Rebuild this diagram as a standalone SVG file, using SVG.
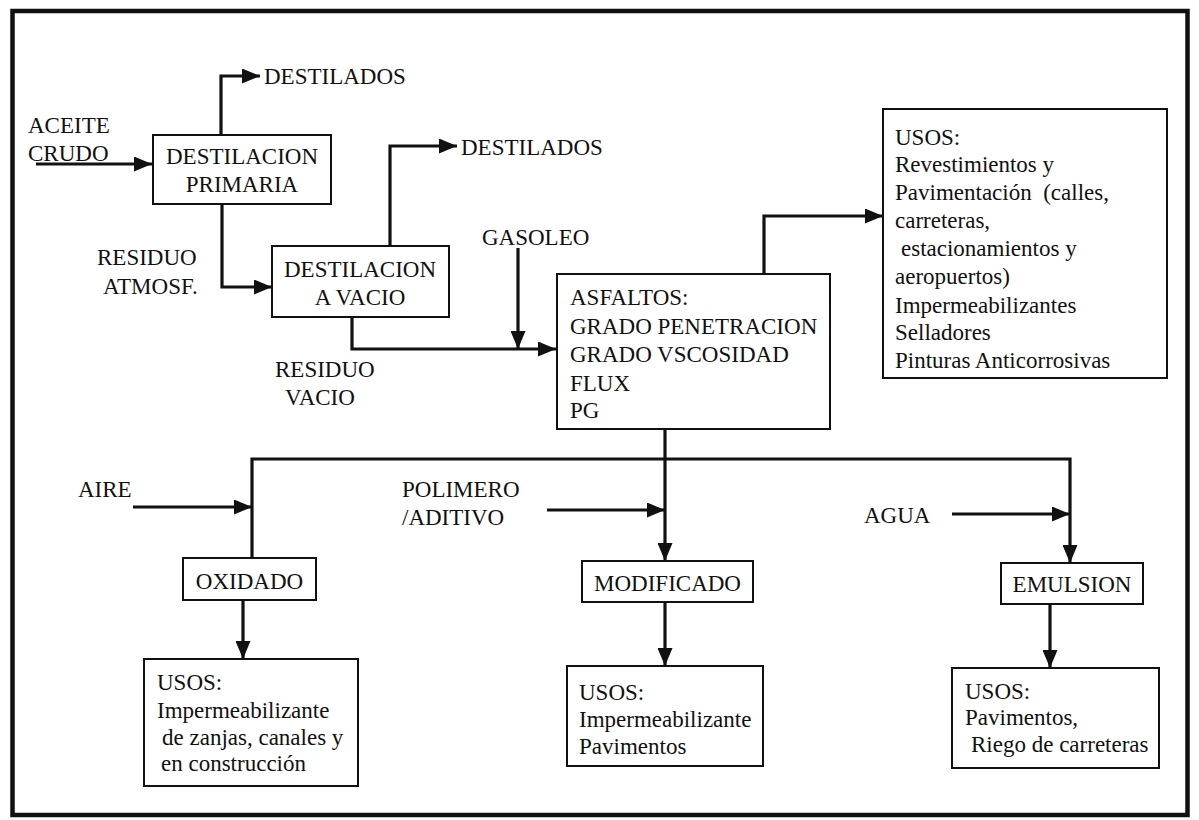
<svg xmlns="http://www.w3.org/2000/svg" width="1199" height="820" viewBox="0 0 1199 820">
<style>
  text { font-family: "Liberation Serif", "Times New Roman", serif; font-size: 23px; fill: #111; }
  .c { text-anchor: middle; }
  .box { fill: #fff; stroke: #111; stroke-width: 2; }
  .con { fill: none; stroke: #111; stroke-width: 3.2; }
  .ah { marker-end: url(#ah); }
</style>
<defs>
  <marker id="ah" markerWidth="18" markerHeight="15" refX="18" refY="7.5" orient="auto" markerUnits="userSpaceOnUse">
    <path d="M0,0 L18,7.5 L0,15 z" fill="#111"/>
  </marker>
</defs>
<rect x="0" y="0" width="1199" height="820" fill="#fff"/>
<rect id="frame" x="12.5" y="11" width="1175" height="804" fill="none" stroke="#111" stroke-width="4.5"/>

<g id="connectors">
  <path class="con ah" d="M221,135 V76 H260"/>
  <path class="con ah" d="M36,164 H152"/>
  <path class="con ah" d="M222,204 V287 H272"/>
  <path class="con ah" d="M390,246 V146 H457"/>
  <path class="con ah" d="M352,317 V349 H556"/>
  <path class="con ah" d="M518,248 V349"/>
  <path class="con ah" d="M764,274 V216 H883"/>
  <path class="con ah" d="M665,429 V561"/>
  <path class="con ah" d="M252,557 V459 H1070 V563"/>
  <path class="con ah" d="M133,507 H252"/>
  <path class="con ah" d="M547,510 H665"/>
  <path class="con ah" d="M952,514 H1070"/>
  <path class="con ah" d="M243,600 V659"/>
  <path class="con ah" d="M665,602 V666"/>
  <path class="con ah" d="M1050,604 V668"/>
</g>

<g id="labels">
  <text x="264" y="84">DESTILADOS</text>
  <text x="28" y="133">ACEITE</text>
  <text x="28" y="161">CRUDO</text>
  <text x="97" y="265">RESIDUO</text>
  <text x="103" y="294">ATMOSF.</text>
  <text x="461" y="155">DESTILADOS</text>
  <text x="482" y="245">GASOLEO</text>
  <text x="275" y="377">RESIDUO</text>
  <text x="285" y="405">VACIO</text>
  <text x="78" y="497">AIRE</text>
  <text x="402" y="497">POLIMERO</text>
  <text x="402" y="525">/ADITIVO</text>
  <text x="864" y="523">AGUA</text>
</g>

<g id="destilacion-primaria">
  <rect class="box" x="153" y="135" width="178" height="69"/>
  <text class="c" x="242" y="164">DESTILACION</text>
  <text class="c" x="242" y="192">PRIMARIA</text>
</g>

<g id="destilacion-vacio">
  <rect class="box" x="272" y="246" width="177" height="71"/>
  <text class="c" x="360" y="277">DESTILACION</text>
  <text class="c" x="360" y="305">A VACIO</text>
</g>

<g id="asfaltos">
  <rect class="box" x="557" y="274" width="273" height="155"/>
  <text x="570" y="305">ASFALTOS:</text>
  <text x="570" y="334">GRADO PENETRACION</text>
  <text x="570" y="362">GRADO VSCOSIDAD</text>
  <text x="570" y="391">FLUX</text>
  <text x="570" y="418">PG</text>
</g>

<g id="usos-asfaltos">
  <rect class="box" x="883" y="109" width="284" height="269"/>
  <text x="895" y="145">USOS:</text>
  <text x="895" y="172">Revestimientos y</text>
  <text x="895" y="200" xml:space="preserve">Pavimentación  (calles,</text>
  <text x="895" y="228">carreteras,</text>
  <text x="901" y="256">estacionamientos y</text>
  <text x="895" y="284">aeropuertos)</text>
  <text x="895" y="313">Impermeabilizantes</text>
  <text x="895" y="340">Selladores</text>
  <text x="895" y="368">Pinturas Anticorrosivas</text>
</g>

<g id="oxidado">
  <rect class="box" x="183" y="558" width="133" height="42"/>
  <text class="c" x="249.5" y="589">OXIDADO</text>
</g>

<g id="modificado">
  <rect class="box" x="582" y="561" width="171" height="41"/>
  <text class="c" x="667.5" y="591">MODIFICADO</text>
</g>

<g id="emulsion">
  <rect class="box" x="1001" y="563" width="142" height="41"/>
  <text class="c" x="1072" y="592">EMULSION</text>
</g>

<g id="usos-oxidado">
  <rect class="box" x="144" y="659" width="214" height="127"/>
  <text x="157" y="690">USOS:</text>
  <text x="157" y="718">Impermeabilizante</text>
  <text x="162" y="745">de zanjas, canales y</text>
  <text x="161" y="771">en construcción</text>
</g>

<g id="usos-modificado">
  <rect class="box" x="567" y="666" width="196" height="100"/>
  <text x="579" y="700">USOS:</text>
  <text x="579" y="727">Impermeabilizante</text>
  <text x="579" y="754">Pavimentos</text>
</g>

<g id="usos-emulsion">
  <rect class="box" x="952" y="668" width="207" height="100"/>
  <text x="965" y="699">USOS:</text>
  <text x="965" y="725">Pavimentos,</text>
  <text x="971" y="752">Riego de carreteras</text>
</g>
</svg>
